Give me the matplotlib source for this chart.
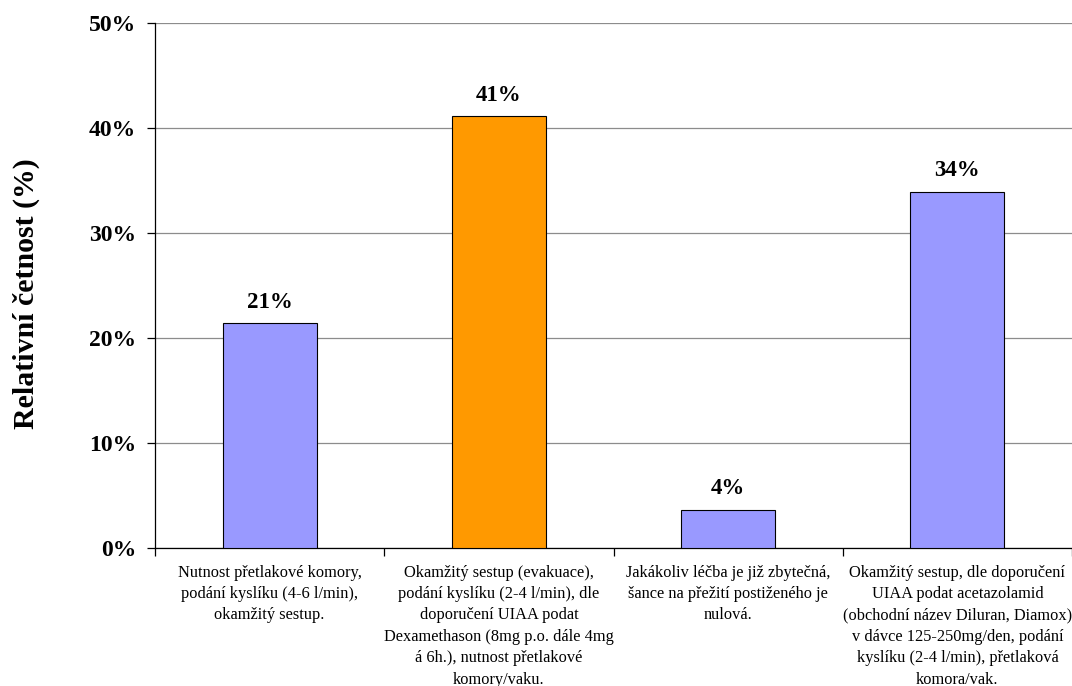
import matplotlib
matplotlib.use("Agg")
import matplotlib.pyplot as plt
from matplotlib.ticker import FuncFormatter

categories = [
    "Nutnost přetlakové komory,\npodání kyslíku (4-6 l/min),\nokamžitý sestup.",
    "Okamžitý sestup (evakuace),\npodání kyslíku (2-4 l/min), dle\ndoporučení UIAA podat\nDexamethason (8mg p.o. dále 4mg\ná 6h.), nutnost přetlakové\nkomory/vaku.",
    "Jakákoliv léčba je již zbytečná,\nšance na přežití postiženého je\nnulová.",
    "Okamžitý sestup, dle doporučení\nUIAA podat acetazolamid\n(obchodní název Diluran, Diamox)\nv dávce 125-250mg/den, podání\nkyslíku (2-4 l/min), přetlaková\nkomora/vak.",
]
values = [21.4, 41.1, 3.6, 33.9]
bar_colors = ["#9999FF", "#FF9900", "#9999FF", "#9999FF"]
y_ticks = [0, 10, 20, 30, 40, 50]
y_label = "Relativní četnost (%)"

plt.rcParams["font.family"] = ["Liberation Serif", "DejaVu Serif"]

fig = plt.figure(figsize=(10.72, 6.86), dpi=100)
ax = fig.add_axes([0.1446, 0.2012, 0.8554, 0.7653])

x = list(range(len(values)))
ax.bar(x, values, width=0.41, color=bar_colors, edgecolor="black", linewidth=0.8, zorder=3)

for xi, v in zip(x, values):
    ax.text(xi, v + 1.5, f"{v:.0f}%", ha="center", va="baseline",
            fontsize=16.5, fontweight="bold", zorder=4)

ax.set_xlim(-0.5, len(values) - 0.5)
ax.set_ylim(0, 50)
ax.set_yticks(y_ticks)
ax.yaxis.set_major_formatter(FuncFormatter(lambda v, p: f"{v:.0f}%"))
for lbl in ax.get_yticklabels():
    lbl.set_fontweight("bold")
    lbl.set_fontsize(17)

ax.grid(axis="y", color="#8c8c8c", linewidth=0.9, zorder=0)
ax.set_axisbelow(True)

# category labels centred between the tick marks
ax.set_xticks(x)
ax.set_xticklabels(categories, fontsize=11.8, linespacing=1.45, va="top")
ax.tick_params(axis="x", length=0, pad=12)
ax.set_xticks([i - 0.5 for i in range(len(values) + 1)], minor=True)
ax.tick_params(axis="x", which="minor", length=6, width=0.9, direction="out")
ax.tick_params(axis="y", length=6, width=0.9, direction="out", pad=7.5)

for side in ("top", "right"):
    ax.spines[side].set_visible(False)
ax.spines["left"].set_linewidth(0.9)
ax.spines["bottom"].set_linewidth(0.9)

ax.set_ylabel(y_label, fontsize=21.5, fontweight="bold")
ax.yaxis.set_label_coords(-0.125, 0.485)

fig.savefig("out.png", dpi=100)
